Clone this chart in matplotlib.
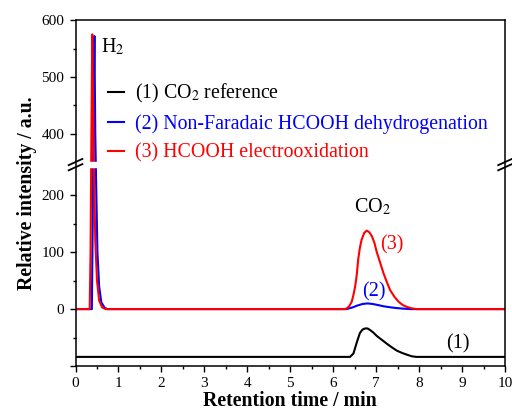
import numpy as np
import matplotlib
matplotlib.use("Agg")
import matplotlib.pyplot as plt
from matplotlib.scale import FuncScale

plt.rcParams['font.family'] = ['Liberation Serif', 'DejaVu Serif']
plt.rcParams['mathtext.fontset'] = 'stix'

# chromatogram traces (time in min, intensity in a.u.)
t_ref = [0, 6.39, 6.47, 6.55, 6.62, 6.68, 6.74, 6.80, 6.86, 6.93, 7.01, 7.13, 7.25,
         7.36, 7.48, 7.60, 7.71, 7.83, 7.94, 8.17, 10]
i_ref = [-84, -84, -78, -58, -42, -36, -34, -34, -37, -41, -47, -54, -61,
         -67, -73, -77, -80, -83, -84, -84, -84]

t_nf = [0, 0.38, 0.40, 0.42, 0.44, 0.46, 0.48, 0.51, 0.55, 0.60, 0.68, 0.75,
        6.31, 6.45, 6.55, 6.68, 6.80, 6.92, 7.05, 7.17, 7.30, 7.45, 7.60, 7.80, 10]
i_nf = [0, 0, 150, 450, 572, 400, 220, 100, 40, 12, 2, 0,
        0, 3, 6, 9, 10, 9, 7, 5, 3.5, 2, 1, 0, 0]

t_eo = [0, 0.33, 0.35, 0.37, 0.39, 0.41, 0.43, 0.46, 0.50, 0.55, 0.62, 0.70,
        6.25, 6.31, 6.37, 6.43, 6.47, 6.51, 6.55, 6.58, 6.62, 6.66, 6.72, 6.78, 6.84,
        6.90, 6.96, 7.01, 7.09, 7.17, 7.25, 7.32, 7.42, 7.52, 7.62, 7.71, 7.82, 7.94, 10]
i_eo = [0, 0, 100, 400, 575, 450, 250, 120, 50, 15, 3, 0,
        0, 1, 5, 13, 25, 40, 62, 87, 108, 122, 134, 138, 135,
        128, 116, 101, 82, 63, 47, 34, 22, 13, 7, 4, 1.5, 0, 0]

labels = ['(1) CO$_2$ reference', '(2) Non-Faradaic HCOOH dehydrogenation',
          '(3) HCOOH electrooxidation']
colors = ['black', 'blue', 'red']

# broken y axis: 250..350 squeezed into a small gap
brk_in = [-1000, 250, 350, 2000]
brk_out = [-1000, 250, 258, 1908]


def fwd(y):
    return np.interp(y, brk_in, brk_out)


def inv(y):
    return np.interp(y, brk_out, brk_in)


fig = plt.figure(figsize=(5.12, 4.11), dpi=100)
ax = fig.add_axes([0.1475, 0.1095, 0.839, 0.8415])
ax.set_yscale(FuncScale(ax, (fwd, inv)))

for t, i, c, lab in zip([t_ref, t_nf, t_eo], [i_ref, i_nf, i_eo], colors, labels):
    ax.plot(t, i, color=c, lw=1.5, label=lab)

ax.set_xlim(0, 10)
ax.set_ylim(-100, 600)
ax.axhspan(250, 350, color='white', zorder=3)
for s in ax.spines.values():
    s.set_zorder(4)
    s.set_linewidth(1.1)

ax.set_xticks(np.arange(0, 11, 1))
ax.set_xticks(np.arange(0.5, 10, 1), minor=True)
ax.set_yticks([-100, 0, 100, 200, 400, 500, 600])
ax.set_yticklabels(['', '0', '100', '200', '400', '500', '600'])
ax.set_yticks([-50, 50, 150, 450, 550], minor=True)
ax.tick_params(which='major', direction='out', length=4.5, width=1, labelsize=11)
ax.tick_params(which='minor', direction='out', length=2.5, width=1)

# break marks on both spines
yb = (254 + 100) / 608.0
dx, dy, sep = 0.016, 0.009, 0.0075
for x0 in (0, 1):
    for off in (-sep, sep):
        ax.plot([x0 - dx, x0 + dx], [yb + off - dy, yb + off + dy], color='black',
                lw=1.3, transform=ax.transAxes, clip_on=False, zorder=5)

ax.set_xlabel('Retention time / min', fontsize=14.2, fontweight='bold', labelpad=1)
ax.set_ylabel('Relative intensity / a.u.', fontsize=14.2, fontweight='bold', labelpad=3)

leg = ax.legend(loc='upper left', bbox_to_anchor=(0.035, 0.872), frameon=False,
                fontsize=14.3, handlelength=0.8, handletextpad=0.55, labelspacing=0.47,
                labelcolor='linecolor')

ax.text(0.6, 543, 'H$_2$', fontsize=14.5)
ax.text(6.48, 170, 'CO$_2$', fontsize=14.5)
ax.text(7.1, 105, '(3)', fontsize=14.5, color='red')
ax.text(6.68, 22, '(2)', fontsize=14.5, color='blue')
ax.text(8.63, -70, '(1)', fontsize=14.5, color='black')

fig.savefig('out.png', dpi=100)
